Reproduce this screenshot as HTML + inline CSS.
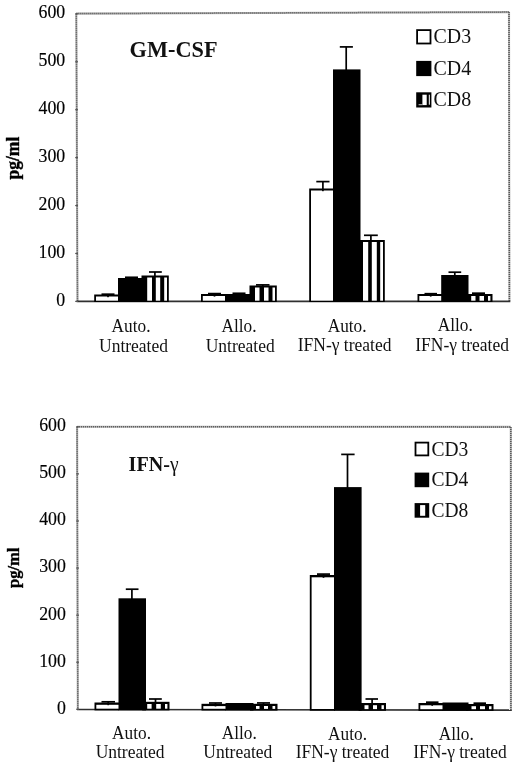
<!DOCTYPE html>
<html><head><meta charset="utf-8"><title>Cytokine production</title>
<style>
html,body{margin:0;padding:0;background:#fff;}
body{width:520px;height:767px;overflow:hidden;font-family:"Liberation Serif",serif;}
svg{display:block;filter:grayscale(1);will-change:transform;}
</style></head><body>
<svg width="520" height="767" viewBox="0 0 520 767">
<rect x="0" y="0" width="520" height="767" fill="#fff"/>
<g fill="none" stroke="#b4b4b4" stroke-width="2.1">
<path d="M76.3 13.75 L77.5 301.4"/><path d="M76.3 13.6 L509.1 12.1"/><path d="M509.0 12.1 L509.4 301.4"/>
<path d="M77.1 426.7 L77.8 709.6"/><path d="M77.1 426.7 L510.9 426.9"/><path d="M510.8 426.9 L510.9 710.2"/>
</g>
<g fill="none" stroke="#555" stroke-width="1.5" stroke-dasharray="1 1">
<path d="M76.3 13.75 L77.5 301.4"/><path d="M76.3 13.6 L509.1 12.1"/><path d="M509.0 12.1 L509.4 301.4"/>
<path d="M77.1 426.7 L77.8 709.6"/><path d="M77.1 426.7 L510.9 426.9"/><path d="M510.8 426.9 L510.9 710.2"/>
</g>
<g fill="none" stroke="#303030" stroke-width="1.6">
<path d="M76.6 301.4 L510.3 301.4"/>
<path d="M76.9 709.55 L511.8 710.15"/>
</g>
<g stroke="#555" stroke-width="1.2">
<path d="M75.2 301.40 L78 301.40"/>
<path d="M76.2 709.30 L79 709.30"/>
<path d="M75.2 253.47 L78 253.47"/>
<path d="M76.2 662.22 L79 662.22"/>
<path d="M75.2 205.54 L78 205.54"/>
<path d="M76.2 615.14 L79 615.14"/>
<path d="M75.2 157.61 L78 157.61"/>
<path d="M76.2 568.06 L79 568.06"/>
<path d="M75.2 109.68 L78 109.68"/>
<path d="M76.2 520.98 L79 520.98"/>
<path d="M75.2 61.75 L78 61.75"/>
<path d="M76.2 473.90 L79 473.90"/>
<path d="M75.2 13.82 L78 13.82"/>
<path d="M76.2 426.82 L79 426.82"/>
</g>
<rect x="94.2" y="294.5" width="24.80" height="7.50" fill="#000"/><rect x="96.00" y="296.50" width="23.00" height="4.20" fill="#fff"/>
<rect x="141.5" y="275.5" width="27.30" height="26.50" fill="#000"/><rect x="147.2" y="277.50" width="4.80" height="23.20" fill="#fff"/><rect x="155.8" y="277.50" width="4.40" height="23.20" fill="#fff"/><rect x="164.2" y="277.50" width="2.80" height="23.20" fill="#fff"/>
<rect x="118" y="278.0" width="28.00" height="24.00" fill="#000"/>
<rect x="201" y="294.0" width="25.00" height="8.00" fill="#000"/><rect x="202.80" y="296.00" width="23.20" height="4.70" fill="#fff"/>
<rect x="249.5" y="285.5" width="27.30" height="16.50" fill="#000"/><rect x="255.0" y="287.50" width="4.50" height="13.20" fill="#fff"/><rect x="264.0" y="287.50" width="4.50" height="13.20" fill="#fff"/><rect x="272.5" y="287.50" width="2.50" height="13.20" fill="#fff"/>
<rect x="225" y="294.0" width="28.00" height="8.00" fill="#000"/>
<rect x="309.2" y="188.5" width="24.80" height="113.50" fill="#000"/><rect x="311.00" y="190.50" width="23.00" height="110.20" fill="#fff"/>
<rect x="357.4" y="240.0" width="27.40" height="62.00" fill="#000"/><rect x="363.0" y="242.00" width="5.20" height="58.70" fill="#fff"/><rect x="371.8" y="242.00" width="5.00" height="58.70" fill="#fff"/><rect x="380.2" y="242.00" width="2.80" height="58.70" fill="#fff"/>
<rect x="333" y="69.4" width="27.50" height="232.60" fill="#000"/>
<rect x="417.5" y="294.0" width="24.50" height="8.00" fill="#000"/><rect x="419.30" y="296.00" width="22.70" height="4.70" fill="#fff"/>
<rect x="465" y="294.0" width="27.50" height="8.00" fill="#000"/><rect x="471.2" y="296.00" width="4.30" height="4.70" fill="#fff"/><rect x="479.5" y="296.00" width="4.50" height="4.70" fill="#fff"/><rect x="488.0" y="296.00" width="2.40" height="4.70" fill="#fff"/>
<rect x="441.2" y="275.0" width="27.30" height="27.00" fill="#000"/>
<rect x="101.50" y="293.35" width="13.00" height="1.7" fill="#000"/><rect x="107.15" y="294.20" width="1.7" height="3.00" fill="#000"/>
<rect x="125.00" y="276.45" width="13.00" height="1.7" fill="#000"/><rect x="130.65" y="277.30" width="1.7" height="1.20" fill="#000"/>
<rect x="149.00" y="271.15" width="12.80" height="1.7" fill="#000"/><rect x="154.05" y="272.00" width="1.7" height="5.00" fill="#000"/>
<rect x="208.00" y="292.75" width="13.00" height="1.7" fill="#000"/><rect x="213.65" y="293.60" width="1.7" height="3.00" fill="#000"/>
<rect x="232.50" y="292.45" width="13.00" height="1.7" fill="#000"/><rect x="238.15" y="293.30" width="1.7" height="1.70" fill="#000"/>
<rect x="256.00" y="284.05" width="13.50" height="1.7" fill="#000"/><rect x="261.95" y="284.90" width="1.7" height="2.10" fill="#000"/>
<rect x="316.30" y="180.75" width="13.20" height="1.7" fill="#000"/><rect x="322.05" y="181.60" width="1.7" height="9.60" fill="#000"/>
<rect x="339.80" y="46.05" width="13.10" height="1.7" fill="#000"/><rect x="345.35" y="46.90" width="1.7" height="23.10" fill="#000"/>
<rect x="364.00" y="234.45" width="13.80" height="1.7" fill="#000"/><rect x="370.05" y="235.30" width="1.7" height="6.70" fill="#000"/>
<rect x="424.50" y="292.85" width="12.50" height="1.7" fill="#000"/><rect x="429.85" y="293.70" width="1.7" height="2.90" fill="#000"/>
<rect x="448.50" y="271.35" width="12.70" height="1.7" fill="#000"/><rect x="453.95" y="272.20" width="1.7" height="3.80" fill="#000"/>
<rect x="472.00" y="292.35" width="13.00" height="1.7" fill="#000"/><rect x="477.65" y="293.20" width="1.7" height="1.80" fill="#000"/>
<rect x="94.5" y="702.5" width="24.50" height="7.90" fill="#000"/><rect x="96.30" y="704.80" width="22.70" height="3.90" fill="#fff"/>
<rect x="142.2" y="701.8" width="27.30" height="8.60" fill="#000"/><rect x="147.2" y="704.00" width="4.40" height="4.70" fill="#fff"/><rect x="156.2" y="704.00" width="4.60" height="4.70" fill="#fff"/><rect x="165.0" y="704.00" width="2.40" height="4.70" fill="#fff"/>
<rect x="118.5" y="598.3" width="27.50" height="112.10" fill="#000"/>
<rect x="201.5" y="703.8" width="24.50" height="6.70" fill="#000"/><rect x="203.30" y="706.10" width="22.70" height="2.70" fill="#fff"/>
<rect x="250" y="703.8" width="27.50" height="6.80" fill="#000"/><rect x="256.0" y="706.00" width="3.50" height="2.90" fill="#fff"/><rect x="264.0" y="706.00" width="4.00" height="2.90" fill="#fff"/><rect x="272.5" y="706.00" width="2.70" height="2.90" fill="#fff"/>
<rect x="225.5" y="703.0" width="28.00" height="7.50" fill="#000"/>
<rect x="309.8" y="575.0" width="25.20" height="135.70" fill="#000"/><rect x="311.60" y="577.30" width="23.40" height="131.70" fill="#fff"/>
<rect x="358.6" y="703.0" width="27.40" height="7.80" fill="#000"/><rect x="364.5" y="705.20" width="4.00" height="3.90" fill="#fff"/><rect x="373.0" y="705.20" width="4.00" height="3.90" fill="#fff"/><rect x="381.5" y="705.20" width="2.40" height="3.90" fill="#fff"/>
<rect x="334" y="487.1" width="27.60" height="223.60" fill="#000"/>
<rect x="418.5" y="703.0" width="24.50" height="7.90" fill="#000"/><rect x="420.30" y="705.30" width="22.70" height="3.90" fill="#fff"/>
<rect x="466" y="704.0" width="27.50" height="6.90" fill="#000"/><rect x="471.5" y="706.20" width="4.50" height="3.00" fill="#fff"/><rect x="480.0" y="706.20" width="5.00" height="3.00" fill="#fff"/><rect x="489.0" y="706.20" width="2.50" height="3.00" fill="#fff"/>
<rect x="442.5" y="702.5" width="26.00" height="8.40" fill="#000"/>
<rect x="101.50" y="700.95" width="13.50" height="1.7" fill="#000"/><rect x="107.35" y="701.80" width="1.7" height="3.40" fill="#000"/>
<rect x="125.80" y="588.35" width="12.70" height="1.7" fill="#000"/><rect x="131.05" y="589.20" width="1.7" height="9.80" fill="#000"/>
<rect x="149.00" y="698.15" width="12.80" height="1.7" fill="#000"/><rect x="154.65" y="699.00" width="1.7" height="5.00" fill="#000"/>
<rect x="209.00" y="702.15" width="13.00" height="1.7" fill="#000"/><rect x="214.65" y="703.00" width="1.7" height="3.40" fill="#000"/>
<rect x="257.00" y="702.10" width="13.00" height="1.7" fill="#000"/><rect x="262.65" y="702.95" width="1.7" height="2.05" fill="#000"/>
<rect x="317.00" y="573.25" width="13.00" height="1.7" fill="#000"/><rect x="322.65" y="574.10" width="1.7" height="3.70" fill="#000"/>
<rect x="341.20" y="453.55" width="13.40" height="1.7" fill="#000"/><rect x="346.65" y="454.40" width="1.7" height="33.60" fill="#000"/>
<rect x="365.50" y="698.15" width="12.50" height="1.7" fill="#000"/><rect x="371.25" y="699.00" width="1.7" height="6.00" fill="#000"/>
<rect x="426.00" y="701.35" width="12.50" height="1.7" fill="#000"/><rect x="431.35" y="702.20" width="1.7" height="3.60" fill="#000"/>
<rect x="473.50" y="702.35" width="12.50" height="1.7" fill="#000"/><rect x="478.85" y="703.20" width="1.7" height="2.80" fill="#000"/>
<g font-family="Liberation Serif, serif" font-size="17.8" text-anchor="end" fill="#000" stroke="#000" stroke-width="0.15">
<text transform="translate(65.2 305.60) scale(1.0 1)">0</text>
<text transform="translate(65.8 713.70) scale(1.0 1)">0</text>
<text transform="translate(65.2 257.67) scale(1.0 1)">100</text>
<text transform="translate(65.8 666.62) scale(1.0 1)">100</text>
<text transform="translate(65.2 209.74) scale(1.0 1)">200</text>
<text transform="translate(65.8 619.54) scale(1.0 1)">200</text>
<text transform="translate(65.2 161.81) scale(1.0 1)">300</text>
<text transform="translate(65.8 572.46) scale(1.0 1)">300</text>
<text transform="translate(65.2 113.88) scale(1.0 1)">400</text>
<text transform="translate(65.8 525.38) scale(1.0 1)">400</text>
<text transform="translate(65.2 65.95) scale(1.0 1)">500</text>
<text transform="translate(65.8 478.30) scale(1.0 1)">500</text>
<text transform="translate(65.2 18.02) scale(1.0 1)">600</text>
<text transform="translate(65.8 431.22) scale(1.0 1)">600</text>
</g>
<g font-family="Liberation Serif, serif" font-size="17.3" text-anchor="middle" fill="#111">
<text font-size="17.3" transform="translate(131.0 332.0) scale(1 1.06)">Auto.</text>
<text font-size="17.5" transform="translate(133.5 351.8) scale(1 1.06)">Untreated</text>
<text font-size="17.3" transform="translate(239.0 331.6) scale(1 1.06)">Allo.</text>
<text font-size="17.5" transform="translate(240.2 351.8) scale(1 1.06)">Untreated</text>
<text font-size="17.3" transform="translate(347.1 331.6) scale(1 1.06)">Auto.</text>
<text font-size="17.5" transform="translate(344.6 351.3) scale(1 1.06)">IFN-&#947; treated</text>
<text font-size="17.3" transform="translate(455.2 331.3) scale(1 1.06)">Allo.</text>
<text font-size="17.5" transform="translate(462.1 350.9) scale(1 1.06)">IFN-&#947; treated</text>
<text font-size="17.3" transform="translate(131.5 739.2) scale(1 1.06)">Auto.</text>
<text font-size="17.5" transform="translate(130.1 758.3) scale(1 1.06)">Untreated</text>
<text font-size="17.3" transform="translate(239.2 739.2) scale(1 1.06)">Allo.</text>
<text font-size="17.5" transform="translate(237.8 758.3) scale(1 1.06)">Untreated</text>
<text font-size="17.3" transform="translate(347.5 739.7) scale(1 1.06)">Auto.</text>
<text font-size="17.5" transform="translate(342.5 758.3) scale(1 1.06)">IFN-&#947; treated</text>
<text font-size="17.3" transform="translate(456.3 739.7) scale(1 1.06)">Allo.</text>
<text font-size="17.5" transform="translate(460.0 758.3) scale(1 1.06)">IFN-&#947; treated</text>
</g>
<g font-family="Liberation Serif, serif" font-weight="bold" fill="#000" stroke="#000" stroke-width="0.35" text-anchor="middle">
<text font-size="17.5" transform="translate(18.5 158.1) rotate(-90) scale(1 1.04)">pg/ml</text>
<text font-size="16.5" transform="translate(19.0 567.8) rotate(-90) scale(1 1.04)">pg/ml</text>
</g>
<g font-family="Liberation Serif, serif" font-weight="bold" fill="#111">
<text transform="translate(129.6 57.3) scale(1 1.05)" font-size="22.3">GM-CSF</text>
<text transform="translate(128.6 470.7) scale(1 1.06)" font-size="20.1">IFN-<tspan font-weight="normal" font-size="19.5">&#947;</tspan></text>
</g>
<rect x="416.2" y="29.2" width="15.2" height="15.2" fill="#000"/><rect x="418.0" y="31.0" width="11.6" height="11.6" fill="#fff"/><rect x="416.2" y="60.9" width="15.2" height="15.2" fill="#000"/><rect x="416.2" y="92.3" width="15.2" height="15.2" fill="#000"/><rect x="422.4" y="94.7" width="4.3" height="10.4" fill="#fff"/><rect x="428.8" y="94.7" width="1.1" height="10" fill="#e8e8e8"/><rect x="418.6" y="104.3" width="3.8" height="0.9" fill="#ddd"/><g font-family="Liberation Serif, serif" font-size="19.9" fill="#111"><text transform="translate(433.5 43.3) scale(1 1.04)">CD3</text><text transform="translate(433.5 75.0) scale(1 1.04)">CD4</text><text transform="translate(433.5 106.4) scale(1 1.04)">CD8</text></g>
<rect x="414.6" y="441.7" width="14.6" height="14.6" fill="#000"/><rect x="416.40000000000003" y="443.5" width="11.0" height="11.0" fill="#fff"/><rect x="414.6" y="472.6" width="14.6" height="14.6" fill="#000"/><rect x="414.6" y="503.1" width="14.6" height="14.6" fill="#000"/><rect x="420.1" y="505.1" width="5.1" height="10.7" fill="#fff"/><g font-family="Liberation Serif, serif" font-size="19.5" fill="#111"><text transform="translate(431.5 455.5) scale(1 1.04)">CD3</text><text transform="translate(431.5 486.3) scale(1 1.04)">CD4</text><text transform="translate(431.5 516.6) scale(1 1.04)">CD8</text></g>
</svg>
</body></html>
